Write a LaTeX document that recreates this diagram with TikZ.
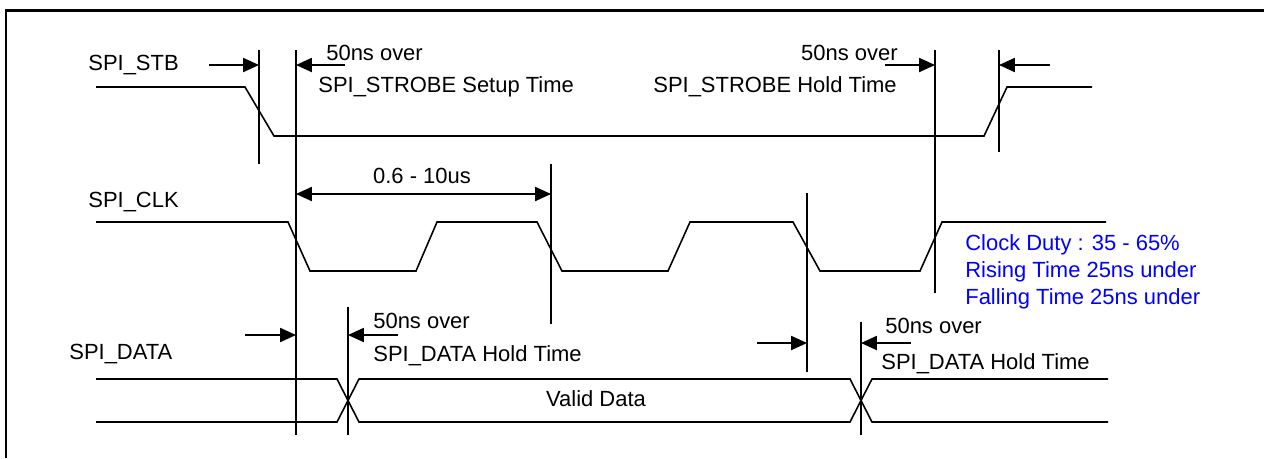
\documentclass[tikz,border=0pt]{standalone}
\usepackage{fontspec}
\setmainfont{Liberation Sans}
\usetikzlibrary{arrows.meta}

\newcommand\sigfont{\fontsize{12.5}{15}\selectfont}

\tikzset{
    wave/.style={line width=0.9pt, line join=miter},
    guide/.style={line width=0.9pt},
    dimarrow/.style={line width=0.9pt, -{Triangle[length=9pt,width=8pt]}},
    lbl/.style={inner sep=0pt, anchor=west, font=\sigfont},
    note/.style={lbl, text=blue},
}

\begin{document}
\begin{tikzpicture}[x=0.02cm,y=-0.02cm]
    \useasboundingbox (0,0) rectangle (1264,458);
    \draw[line width=1.7pt] (6,458) |- (1264,10);

    % signal names
    \node[lbl] (stb)  at (88,65)  {SPI\_STB};
    \node[lbl] (clk)  at (88,202) {SPI\_CLK};
    \node[lbl] (data) at (69,354) {SPI\_DATA};

    % waveforms
    \draw[wave] (96,87) -- (245,87) -- (274,136) -- (984,136) -- (1007,87) -- (1092,87);
    \draw[wave] (96,222) -- (288,222) -- (310,271) -- (416,271) -- (437,222)
        -- (537,222) -- (562,271) -- (668,271) -- (690,222)
        -- (793,222) -- (820,271) -- (920,271) -- (942,222) -- (1106,222);
    \draw[wave] (96,379) -- (337,379) -- (359,422) -- (850,422) -- (872,379) -- (1108,379);
    \draw[wave] (96,422) -- (337,422) -- (359,379) -- (850,379) -- (872,422) -- (1108,422);
    \node[font=\sigfont, inner sep=0pt] (valid) at (596,399) {Valid Data};

    % timing marks
    \coordinate (v1) at (259,50);  \coordinate (v1e) at (259,164);
    \coordinate (v2) at (296,50);  \coordinate (v2e) at (296,435);
    \coordinate (v3) at (935,50);  \coordinate (v3e) at (935,293);
    \coordinate (v4) at (999,50);  \coordinate (v4e) at (999,152);
    \coordinate (v5) at (551,164); \coordinate (v5e) at (551,324);
    \coordinate (v6) at (807,193); \coordinate (v6e) at (807,372);
    \coordinate (v7) at (348,307); \coordinate (v7e) at (348,435);
    \coordinate (v8) at (861,322); \coordinate (v8e) at (861,435);
    \foreach \v in {v1,v2,v3,v4,v5,v6,v7,v8}
        \draw[guide] (\v) -- (\v e);

    % strobe setup / hold
    \coordinate (su) at (209,65);  \coordinate (sv) at (345,65);
    \coordinate (hu) at (885,65);  \coordinate (hv) at (1050,65);
    \draw[dimarrow] (su) -- (su -| v1);
    \draw[dimarrow] (sv) -- (sv -| v2);
    \draw[dimarrow] (hu) -- (hu -| v3);
    \draw[dimarrow] (hv) -- (hv -| v4);
    \node[lbl] (su50) at (326,53) {50ns over};
    \node[lbl] (sutx) at (318,87) {SPI\_STROBE Setup Time};
    \node[lbl, anchor=east] (ho50) at (898,53) {50ns over};
    \node[lbl] (hotx) at (653,87) {SPI\_STROBE Hold Time};

    % clock period
    \coordinate (pa) at (296,194);
    \draw[dimarrow, {Triangle[length=9pt,width=8pt]}-{Triangle[length=9pt,width=8pt]}]
        (pa) -- (pa -| v5);
    \node[font=\sigfont, inner sep=0pt] (per) at (422,176) {0.6 - 10us};

    % data hold
    \coordinate (da) at (245,335); \coordinate (db) at (398,335);
    \coordinate (dc) at (757,343); \coordinate (dd) at (911,343);
    \draw[dimarrow] (da) -- (da -| v2);
    \draw[dimarrow] (db) -- (db -| v7);
    \draw[dimarrow] (dc) -- (dc -| v6);
    \draw[dimarrow] (dd) -- (dd -| v8);
    \node[lbl] (dh50a) at (373,321) {50ns over};
    \node[lbl] (dhtxa) at (373,356) {SPI\_DATA Hold Time};
    \node[lbl] (dh50b) at (885,326) {50ns over};
    \node[lbl] (dhtxb) at (881,364) {SPI\_DATA Hold Time};

    % clock notes
    \node[note] (duty) at (965,245) {Clock Duty : 35 - 65\%};
    \node[note] (rise) at (965,272) {Rising Time 25ns under};
    \node[note] (fall) at (965,299) {Falling Time 25ns under};
\end{tikzpicture}
\end{document}
